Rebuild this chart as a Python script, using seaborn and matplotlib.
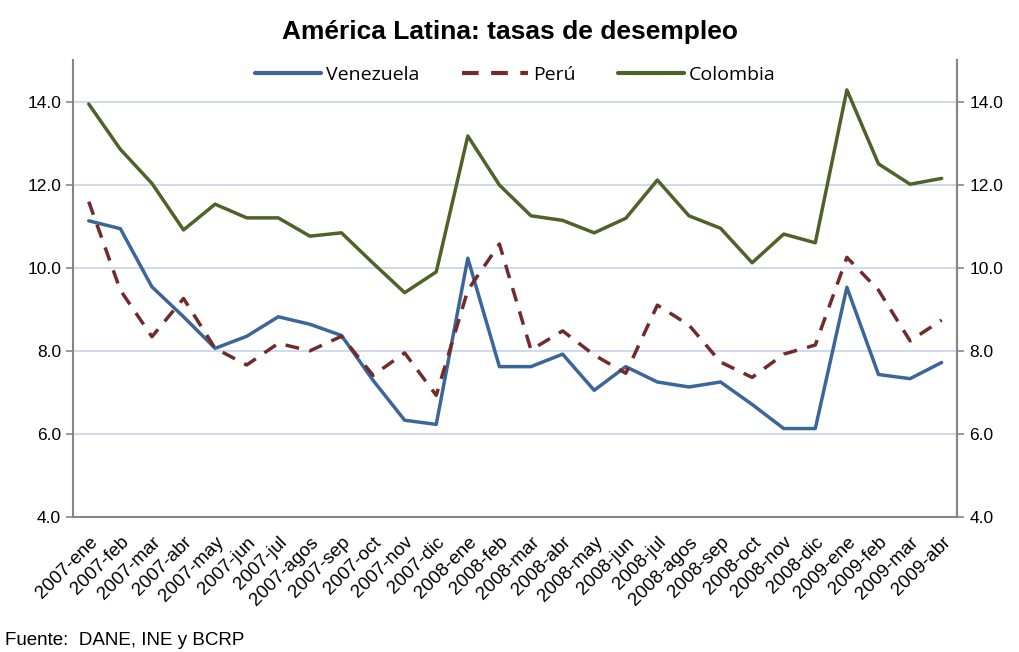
import pandas as pd
import matplotlib
matplotlib.use("Agg")
import matplotlib.pyplot as plt
import seaborn as sns

# Data
meses = [
    "2007-ene", "2007-feb", "2007-mar", "2007-abr", "2007-may", "2007-jun",
    "2007-jul", "2007-agos", "2007-sep", "2007-oct", "2007-nov", "2007-dic",
    "2008-ene", "2008-feb", "2008-mar", "2008-abr", "2008-may", "2008-jun",
    "2008-jul", "2008-agos", "2008-sep", "2008-oct", "2008-nov", "2008-dic",
    "2009-ene", "2009-feb", "2009-mar", "2009-abr",
]
venezuela = [11.13, 10.94, 9.54, 8.82, 8.06, 8.35, 8.82, 8.64, 8.37, 7.29,
             6.33, 6.23, 10.23, 7.62, 7.62, 7.92, 7.05, 7.62, 7.25, 7.13,
             7.25, 6.71, 6.13, 6.13, 9.53, 7.43, 7.33, 7.72]
peru = [11.59, 9.46, 8.34, 9.26, 8.06, 7.66, 8.18, 8.00, 8.35, 7.41,
        7.95, 6.93, 9.46, 10.57, 8.02, 8.48, 7.90, 7.46, 9.10, 8.62,
        7.73, 7.36, 7.92, 8.14, 10.25, 9.46, 8.24, 8.74]
colombia = [13.94, 12.85, 12.03, 10.91, 11.53, 11.20, 11.20, 10.76, 10.84, 10.11,
            9.40, 9.90, 13.17, 11.99, 11.25, 11.14, 10.84, 11.19, 12.11, 11.25,
            10.95, 10.12, 10.81, 10.60, 14.28, 12.50, 12.01, 12.15]
yticks = [4.0, 6.0, 8.0, 10.0, 12.0, 14.0]

GRAY = "#868686"


def main():
    sns.set_style("white")
    plt.rcParams["font.family"] = ["Liberation Sans", "DejaVu Sans"]
    plt.rcParams["text.color"] = "black"
    plt.rcParams["xtick.color"] = GRAY
    plt.rcParams["ytick.color"] = GRAY
    plt.rcParams["xtick.labelcolor"] = "black"
    plt.rcParams["ytick.labelcolor"] = "black"

    df = pd.DataFrame({"mes": range(len(meses)), "Venezuela": venezuela,
                       "Perú": peru, "Colombia": colombia})

    fig = plt.figure(figsize=(10.19, 6.52), dpi=100)
    ax = fig.add_axes([0.0716, 0.207, 0.868, 0.701])

    sns.lineplot(data=df, x="mes", y="Venezuela", ax=ax, color="#3b6699",
                 linewidth=2.5, label="Venezuela")
    sns.lineplot(data=df, x="mes", y="Perú", ax=ax, color="#722a2a",
                 linewidth=2.5, label="Perú")
    ax.lines[-1].set_dashes([4, 3])
    sns.lineplot(data=df, x="mes", y="Colombia", ax=ax, color="#4f6228",
                 linewidth=2.5, label="Colombia")

    ax.set_xlim(-0.5, len(meses) - 0.5)
    ax.set_ylim(4, 15)
    ax.set_yticks(yticks)
    ax.set_yticklabels([f"{v:.1f}" for v in yticks], fontsize=12.5)
    ax.yaxis.grid(True, color="#c9d8ee", linewidth=1.3)
    ax.set_axisbelow(True)

    ax.set_xticks(range(len(meses)))
    ax.set_xticklabels(meses, rotation=45, ha="right", rotation_mode="anchor",
                       fontsize=13.5)
    ax.set_xticks([i - 0.5 for i in range(len(meses) + 1)], minor=True)
    ax.tick_params(axis="x", which="major", length=0, pad=12)
    ax.tick_params(axis="x", which="minor", length=5, direction="out", width=1.2)
    ax.tick_params(axis="y", length=5, direction="out", left=True, width=1.2)
    ax.set_xlabel("")
    ax.set_ylabel("")

    for side in ["left", "right", "bottom"]:
        ax.spines[side].set_color(GRAY)
        ax.spines[side].set_linewidth(1.5)
    ax.spines["top"].set_visible(False)

    ax2 = ax.twinx()
    ax2.set_ylim(4, 15)
    ax2.set_yticks(yticks)
    ax2.set_yticklabels([f"{v:.1f}" for v in yticks], fontsize=12.5)
    ax2.tick_params(axis="y", length=5, direction="out", right=True, width=1.2)
    for side in ["top", "left", "bottom"]:
        ax2.spines[side].set_visible(False)
    ax2.spines["right"].set_color(GRAY)
    ax2.spines["right"].set_linewidth(1.5)
    ax2.grid(False)

    leg = ax.legend(loc="upper center", bbox_to_anchor=(0.5, 1.025), ncol=3,
                    frameon=False, handlelength=3.4, handletextpad=0.25,
                    columnspacing=2.2, prop={"family": "Open Sans", "size": 14})
    for line in leg.get_lines():
        line.set_linewidth(3.0)

    fig.suptitle("América Latina: tasas de desempleo", x=0.5, y=0.97,
                 fontsize=19, fontweight="bold")
    fig.text(0.005, 0.01, "Fuente:  DANE, INE y BCRP", fontsize=13.5)

    fig.savefig("out.png", dpi=100)


if __name__ == "__main__":
    main()
